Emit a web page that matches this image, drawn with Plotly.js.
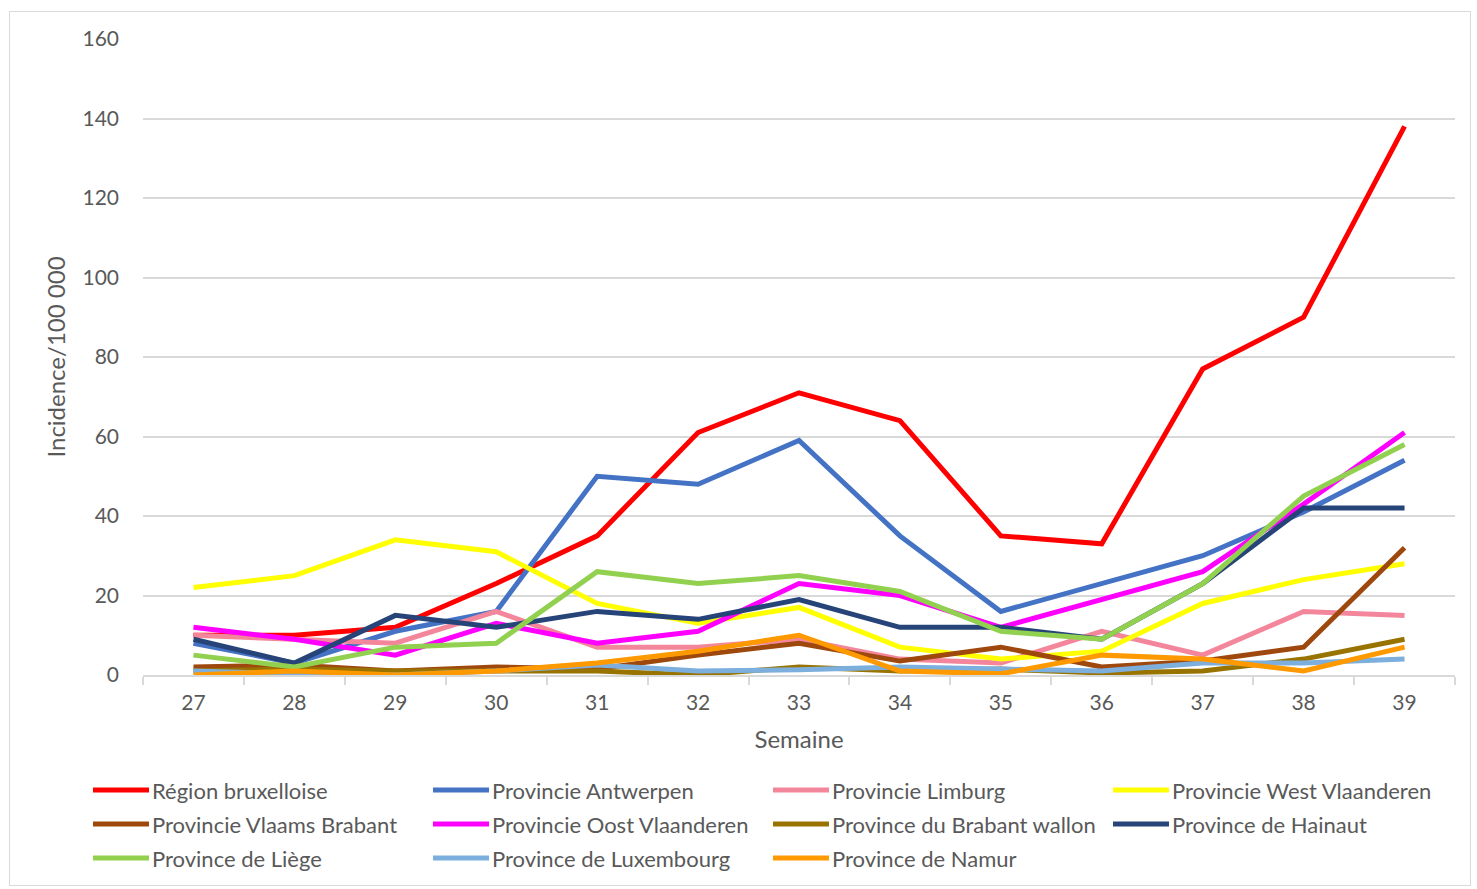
<!DOCTYPE html>
<html>
<head>
<meta charset="utf-8">
<script src="https://cdn.plot.ly/plotly-3.0.1.min.js"></script>
<style>
  html, body { margin: 0; padding: 0; background: #fff; }
  #frame { position: absolute; left: 9px; top: 11px; width: 1460px; height: 873px; border: 1px solid #d9d9d9; }
  #chart { width: 1460px; height: 873px; }
</style>
</head>
<body>
<div id="frame"><div id="chart"></div></div>
<script>
const weeks = ['27','28','29','30','31','32','33','34','35','36','37','38','39'];

const bruxelles      = [10, 10, 12, 23, 35, 61, 71, 64, 35, 33, 77, 90, 138];
const antwerpen      = [8, 3, 11, 16, 50, 48, 59, 35, 16, 23, 30, 41, 54];
const limburg        = [10, 9, 8, 16, 7, 7, 9, 4, 3, 11, 5, 16, 15];
const westVl         = [22, 25, 34, 31, 18, 13, 17, 7, 4, 6, 18, 24, 28];
const vlaamsBrabant  = [2, 2.5, 1, 2, 1.5, 5, 8, 3.5, 7, 2, 3.5, 7, 32];
const oostVl         = [12, 9, 5, 13, 8, 11, 23, 20, 12, 19, 26, 43, 61];
const brabantWallon  = [1, 1.5, 1, 1, 1, 0, 2, 1, 1.5, 0.5, 1, 4, 9];
const hainaut        = [9, 3, 15, 12, 16, 14, 19, 12, 12, 9, 23, 42, 42];
const liege          = [5, 2, 7, 8, 26, 23, 25, 21, 11, 9, 23, 45, 58];
const luxembourg     = [1, 0.3, 0, 1, 2.5, 1, 1.3, 2, 1.5, 1, 3, 3, 4];
const namur          = [0, 1, 0, 1, 3, 6, 10, 1, 0.3, 5, 4, 1, 7];

const seriesNames = ['Région bruxelloise','Provincie Antwerpen','Provincie Limburg','Provincie West Vlaanderen',
  'Provincie Vlaams Brabant','Provincie Oost Vlaanderen','Province du Brabant wallon','Province de Hainaut',
  'Province de Liège','Province de Luxembourg','Province de Namur'];
const seriesValues = [bruxelles, antwerpen, limburg, westVl, vlaamsBrabant, oostVl, brabantWallon, hainaut, liege, luxembourg, namur];
const seriesColors = ['#ff0000','#4472c4','#f4869c','#ffff00','#9e480e','#ff00ff','#997300','#264478','#92d050','#7cafdd','#ff9900'];

const traces = seriesNames.map((name, i) => ({
  type: 'scatter',
  mode: 'lines',
  x: weeks,
  y: seriesValues[i],
  name: name,
  showlegend: false,
  line: { color: seriesColors[i], width: 5 },
  hoverinfo: 'x+y+name'
}));

// Plot area geometry (pixels inside the chart div)
const W = 1460, H = 873;
const M = { l: 133, r: 15, t: 27, b: 210 };
const PW = W - M.l - M.r, PH = H - M.t - M.b;
// convert chart-div pixel offsets to paper coordinates for the legend
const px = x => (x - M.l) / PW;
const py = y => (H - M.b - y) / PH;

const font = 'Lato, "Open Sans", sans-serif';
const shapes = [], annotations = [];
seriesNames.forEach((name, i) => {
  const col = i % 4, row = Math.floor(i / 4);
  const x0 = 83 + 340 * col, yy = 778 + 34 * row;
  shapes.push({ type: 'line', xref: 'paper', yref: 'paper',
    x0: px(x0), x1: px(x0 + 56), y0: py(yy), y1: py(yy),
    line: { color: seriesColors[i], width: 5 } });
  annotations.push({ xref: 'paper', yref: 'paper', x: px(x0 + 57), y: py(yy),
    xanchor: 'left', yanchor: 'middle', showarrow: false, text: name,
    font: { family: font, size: 22, color: '#595959' } });
});

const layout = {
  width: W, height: H,
  margin: M,
  paper_bgcolor: '#ffffff',
  plot_bgcolor: '#ffffff',
  font: { family: font, color: '#595959', size: 21 },
  showlegend: false,
  shapes: shapes,
  annotations: annotations,
  xaxis: {
    type: 'category',
    tickson: 'boundaries',
    ticks: 'outside', ticklen: 8, tickcolor: '#d9d9d9', tickwidth: 1.5,
    showline: true, linecolor: '#d9d9d9', linewidth: 1.5,
    showgrid: false, zeroline: false,
    ticklabelstandoff: 8,
    tickfont: { size: 21, color: '#595959' },
    title: { text: 'Semaine', font: { size: 24, color: '#595959' }, standoff: 18 },
    range: [-0.5, 12.5],
    automargin: false,
    fixedrange: true
  },
  yaxis: {
    range: [0, 160],
    tickvals: [0,20,40,60,80,100,120,140,160],
    showgrid: true, gridcolor: '#d9d9d9', gridwidth: 1.5,
    zeroline: false, showline: false,
    ticks: '', ticklabelstandoff: 23,
    tickfont: { size: 21, color: '#595959' },
    title: { text: 'Incidence/100 000', font: { size: 24, color: '#595959' }, standoff: 10 },
    automargin: false,
    fixedrange: true
  }
};

Plotly.newPlot('chart', traces, layout, { displayModeBar: false, responsive: false });
</script>
</body>
</html>
